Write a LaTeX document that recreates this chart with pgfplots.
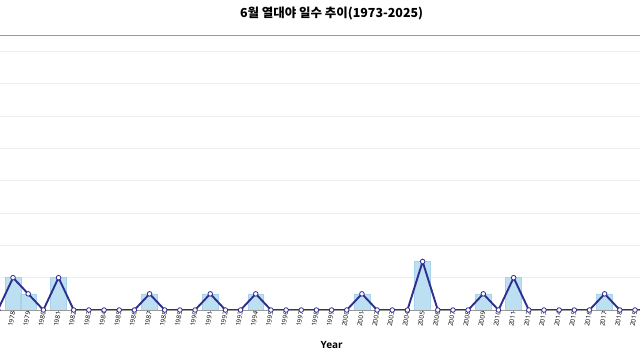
\documentclass[border=0pt]{standalone}
\usepackage{fontspec}
\setmainfont{Open Sans}
\newfontfamily\cjk{Noto Sans CJK KR}
\usepackage{pgfplots}
\usepackage{pgfplotstable}
\pgfplotsset{compat=1.18}
\definecolor{navyline}{HTML}{2E2E8F}
\definecolor{barblue}{HTML}{BCE0F2}
\definecolor{baredge}{HTML}{A6D2EA}
\pgfplotstableread{
year days
1973 0
1974 0
1975 0
1976 0
1977 0
1978 1
1979 0.5
1980 0
1981 1
1982 0
1983 0
1984 0
1985 0
1986 0
1987 0.5
1988 0
1989 0
1990 0
1991 0.5
1992 0
1993 0
1994 0.5
1995 0
1996 0
1997 0
1998 0
1999 0
2000 0
2001 0.5
2002 0
2003 0
2004 0
2005 1.5
2006 0
2007 0
2008 0
2009 0.5
2010 0
2011 1
2012 0
2013 0
2014 0
2015 0
2016 0
2017 0.5
2018 0
2019 0
2020 0
2021 0
2022 0
2023 0
2024 0
2025 0
}\datatable
\begin{document}
\begin{tikzpicture}
\useasboundingbox (0,0) rectangle (640bp,360bp);
\fill[white] (0,0) rectangle (640bp,360bp);
\clip (0,0) rectangle (640bp,360bp);
\begin{axis}[
  scale only axis, width=804bp, height=274.6bp,
  at={(-70.4bp,50bp)}, anchor=south west,
  xmin=1972.5, xmax=2025.5, ymin=0, ymax=8.5,
  axis line style={draw=black!40, line width=0.8bp},
  xtick={1973,...,2025},
  xtick pos=lower,
  tick align=outside,
  major tick length=2bp,
  x tick style={draw=black!45, line width=0.5bp},
  /pgf/number format/assume math mode=true,
  /pgf/number format/1000 sep={},
  xticklabel style={rotate=80, anchor=east, font=\fontsize{6.5}{7}\selectfont, inner sep=1.5bp, xshift=1.8bp},
  ytick={1,...,8}, yticklabels={}, ytick style={draw=none},
  ymajorgrids, grid style={draw=black!7, line width=0.8bp},
  xlabel={Year},
  xlabel style={font=\bfseries\fontsize{10}{12}\selectfont, at={(axis description cs:0.5,0)}, anchor=center, yshift=-35bp},
]
\addplot[ybar, bar width=1.05, fill=barblue, draw=baredge, line width=0.5bp] table[x=year, y=days] {\datatable};
\addplot[color=navyline, line width=1.9bp, mark=*, mark size=2.3bp, mark options={fill=white, draw=navyline, line width=0.8bp}] table[x=year, y=days] {\datatable};
\end{axis}
\node[font=\cjk\bfseries\fontsize{12.5}{14}\selectfont] at (331.6bp,346bp) {6월 열대야 일수 추이(1973-2025)};
\end{tikzpicture}
\end{document}
